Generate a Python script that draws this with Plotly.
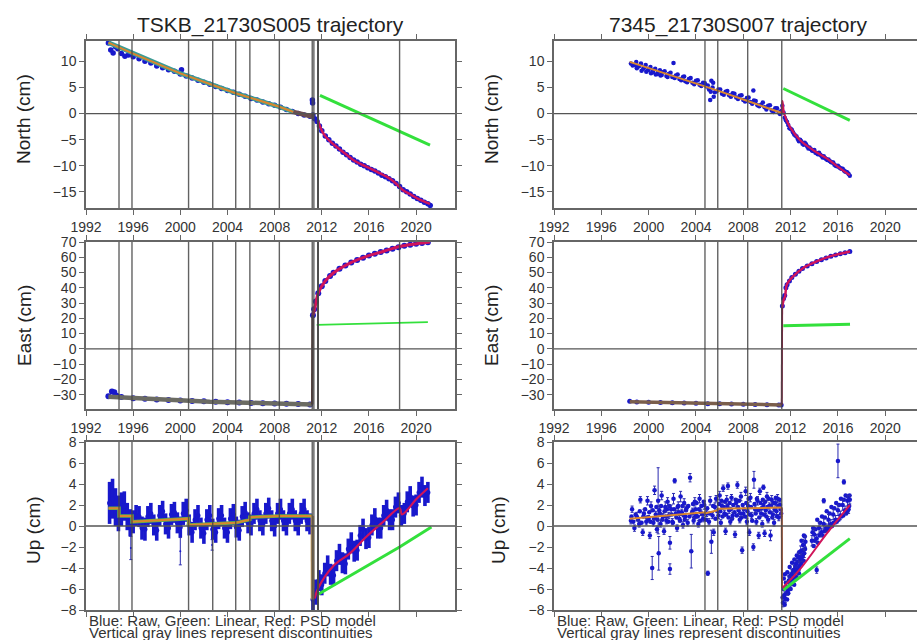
import plotly.graph_objects as go

# ---------------- text ----------------
TITLES = ["TSKB_21730S005 trajectory", "7345_21730S007 trajectory"]
Y_TITLES = ["North (cm)", "East (cm)", "Up (cm)"]
NOTE_1 = "Blue: Raw, Green: Linear, Red: PSD model"
NOTE_2 = "Vertical gray lines represent discontinuities"

YEAR_TICKS = [1992, 1996, 2000, 2004, 2008, 2012, 2016, 2020]
NORTH_TICKS = [-15, -10, -5, 0, 5, 10]
EAST_TICKS = [-30, -20, -10, 0, 10, 20, 30, 40, 50, 60, 70]
UP_TICKS = [-8, -6, -4, -2, 0, 2, 4, 6, 8]

# ---------------- discontinuities (years) ----------------
L_DISC = [1994.8, 1995.9, 2000.7, 2002.75, 2004.7, 2005.9, 2008.4,
          2011.19, 2011.33, 2011.66, 2011.68, 2011.70, 2018.6]
R_DISC = [2004.76, 2005.84, 2008.37, 2011.25]

# ================= TSKB (left) =================
# North
LN_RAW_T = [1993.9, 1994.1, 1994.3, 1994.5, 1994.7, 1995.0, 1995.3, 1995.6, 1996.0, 1996.5,
            1997.0, 1997.5, 1998.0, 1998.5, 1999.0, 1999.5, 2000.0, 2000.1, 2000.5, 2001.0,
            2001.5, 2002.0, 2002.5, 2003.0, 2003.5, 2004.0, 2004.5, 2005.0, 2005.5, 2006.0,
            2006.5, 2007.0, 2007.5, 2008.0, 2008.5, 2009.0, 2009.5, 2010.0, 2010.5, 2011.0,
            2011.2, 2011.22, 2011.25, 2011.4, 2011.6, 2011.8, 2012.0, 2012.3, 2012.6, 2012.9,
            2013.2, 2013.5, 2013.8, 2014.1, 2014.4, 2014.7, 2015.0, 2015.3, 2015.6, 2015.9,
            2016.2, 2016.5, 2016.8, 2017.1, 2017.4, 2017.7, 2018.0, 2018.3, 2018.6, 2018.9,
            2019.2, 2019.5, 2019.8, 2020.1, 2020.4, 2020.7, 2021.0, 2021.2]
LN_RAW_V = [13.5, 12.2, 11.6, 12.8, 12.4, 11.5, 11.0, 11.2, 10.9, 10.5,
            10.0, 9.7, 9.1, 8.8, 8.4, 8.1, 7.6, 8.4, 7.2, 6.8,
            6.4, 6.0, 5.6, 5.2, 4.8, 4.4, 4.1, 3.7, 3.3, 2.9,
            2.6, 2.2, 1.9, 1.6, 1.2, 0.8, 0.4, 0.0, -0.3, -0.5,
            2.6, 2.0, -0.3, -1.0, -1.5, -2.4, -3.3, -4.3, -5.0, -5.7,
            -6.2, -6.8, -7.4, -7.9, -8.4, -8.9, -9.3, -9.7, -10.0, -10.4,
            -10.7, -11.0, -11.4, -11.8, -12.1, -12.5, -12.9, -13.4, -14.0, -14.6,
            -15.0, -15.4, -15.9, -16.3, -16.6, -17.0, -17.3, -17.6]
LN_MOD_T = [1993.9, 1996.0, 2000.0, 2002.75, 2004.7, 2008.4, 2009.6]
LN_MOD_V = [13.6, 11.5, 7.7, 5.5, 3.9, 1.3, 0.3]
LN_TRANS_T = [2009.6, 2010.2, 2010.8, 2011.19, 2011.35]
LN_TRANS_V = [0.3, -0.1, -0.4, -0.6, -0.65]
LN_PSD_T = [2011.65, 2012.13, 2012.6, 2013.26, 2014.0, 2014.67, 2015.4, 2016.09, 2016.8,
            2017.5, 2018.2, 2018.9, 2019.6, 2020.3, 2021.18]
LN_PSD_V = [-1.3, -3.8, -5.1, -6.4, -7.7, -8.9, -9.8, -10.5, -11.3,
            -12.1, -13.2, -14.7, -15.6, -16.5, -17.3]
LN_LIN_T = [2011.85, 2021.18]
LN_LIN_V = [3.5, -6.05]

# East
LE_RAW_T = [1993.9, 1994.2, 1994.4, 1994.6, 1995.0, 1996.0, 1997.0, 1998.0, 1999.0, 2000.0,
            2001.0, 2002.0, 2003.0, 2004.0, 2005.0, 2006.0, 2007.0, 2008.0, 2009.0, 2010.0,
            2011.0, 2011.25, 2011.35, 2011.5, 2011.7, 2012.0, 2012.3, 2012.7, 2013.0, 2013.5,
            2014.0, 2014.5, 2015.0, 2015.5, 2016.0, 2016.5, 2017.0, 2017.5, 2018.0, 2018.5,
            2019.0, 2019.5, 2020.0, 2020.5, 2021.0]
LE_RAW_V = [-31.0, -28.0, -28.5, -30.8, -31.6, -32.3, -32.7, -33.2, -33.5, -33.8,
            -34.2, -34.4, -34.7, -34.9, -35.2, -35.4, -35.6, -35.8, -36.0, -36.2,
            -36.4, 22.0, 26.0, 31.0, 36.5, 41.0, 44.4, 47.8, 49.8, 52.5,
            54.6, 56.5, 58.2, 59.7, 61.1, 62.3, 63.4, 64.5, 65.6, 66.6,
            67.5, 68.2, 68.8, 69.3, 69.8]
LE_MOD_T = [1993.9, 1997.7, 2002.5, 2007.3, 2011.19]
LE_MOD_V = [-31.3, -33.0, -34.6, -35.6, -36.4]
LE_JUMP_T = [2011.19, 2011.22]
LE_JUMP_V = [-36.4, 22.0]
LE_PSD_T = [2011.25, 2011.42, 2011.7, 2012.27, 2012.98, 2014.39, 2015.81, 2017.2, 2018.6,
            2020.05, 2021.18]
LE_PSD_V = [22.0, 27.0, 36.5, 44.2, 49.7, 56.2, 60.6, 63.8, 67.1, 68.9, 70.0]
LE_LIN_T = [2011.57, 2021.0]
LE_LIN_V = [15.7, 17.5]

# Up
LU_RAW_T = [1994.0, 1994.25, 1994.5, 1994.75, 1995.0, 1995.25, 1995.5, 1995.75,
            1996.0, 1996.25, 1996.5, 1996.75, 1997.0, 1997.25, 1997.5, 1997.75,
            1998.0, 1998.25, 1998.5, 1998.75, 1999.0, 1999.25, 1999.5, 1999.75,
            2000.0, 2000.25, 2000.5, 2000.75, 2001.0, 2001.25, 2001.5, 2001.75,
            2002.0, 2002.25, 2002.5, 2002.75, 2003.0, 2003.25, 2003.5, 2003.75,
            2004.0, 2004.25, 2004.5, 2004.75, 2005.0, 2005.25, 2005.5, 2005.75,
            2006.0, 2006.25, 2006.5, 2006.75, 2007.0, 2007.25, 2007.5, 2007.75,
            2008.0, 2008.25, 2008.5, 2008.75, 2009.0, 2009.25, 2009.5, 2009.75,
            2010.0, 2010.25, 2010.5, 2010.75, 2011.0,
            2011.25, 2011.5, 2011.75, 2012.0, 2012.25, 2012.5, 2012.75, 2013.0,
            2013.25, 2013.5, 2013.75, 2014.0, 2014.25, 2014.5, 2014.75, 2015.0,
            2015.25, 2015.5, 2015.75, 2016.0, 2016.25, 2016.5, 2016.75, 2017.0,
            2017.25, 2017.5, 2017.75, 2018.0, 2018.25, 2018.5, 2018.75, 2019.0,
            2019.25, 2019.5, 2019.75, 2020.0, 2020.25, 2020.5, 2020.75, 2021.0]
LU_RAW_V = [2.2, 2.6, 1.8, 1.2, 1.6, 1.9, 0.9, 0.3,
            0.4, 1.0, 0.9, -0.2, -0.3, 0.9, 1.2, 0.1,
            -0.4, 1.0, 1.4, 0.2, -0.2, 1.1, 1.3, 0.3,
            -0.1, 1.2, 1.5, 0.1, -0.6, 0.6, 1.0, -0.2,
            -0.7, 0.6, 1.0, -0.3, -0.6, 0.7, 1.0, -0.2,
            -0.6, 0.7, 1.1, -0.1, -0.4, 0.9, 1.3, 0.3,
            0.1, 1.2, 1.6, 0.5, 0.1, 1.2, 1.7, 0.5,
            0.0, 1.2, 1.6, 0.5, 0.1, 1.2, 1.6, 0.5,
            0.1, 1.2, 1.6, 0.5, 0.2,
            -7.0, -6.3, -5.2, -5.6, -4.5, -3.8, -4.6, -4.7,
            -3.3, -2.7, -3.5, -3.6, -2.2, -1.6, -2.4, -2.3,
            -0.9, -0.3, -1.2, -1.1, 0.1, 0.7, -0.2, -0.2,
            1.0, 1.5, 0.6, 0.6, 1.8, 2.2, 1.0, 1.2,
            2.3, 2.8, 1.9, 2.0, 3.2, 3.7, 2.9, 3.2]
LU_RAW_E = [2.0, 1.9, 1.8, 1.7, 1.6, 1.4, 1.3, 1.3,
            1.1, 1.0, 1.0, 1.1, 1.1, 1.0, 1.0, 1.0,
            1.0, 1.0, 1.0, 1.0, 1.0, 1.0, 1.0, 1.0,
            1.0, 1.1, 1.1, 1.0, 1.0, 1.0, 1.0, 1.0,
            1.0, 1.0, 1.0, 1.0, 1.0, 1.0, 1.0, 1.0,
            1.0, 1.0, 1.0, 1.0, 1.0, 1.0, 1.0, 1.0,
            1.0, 1.0, 1.0, 1.0, 1.0, 1.0, 1.0, 1.0,
            1.0, 1.0, 1.0, 1.0, 1.0, 1.0, 1.0, 1.0,
            1.0, 1.0, 1.0, 1.0, 1.0,
            1.1, 1.2, 1.0, 1.0, 1.0, 1.0, 1.0, 1.0,
            1.0, 1.0, 1.0, 1.0, 1.0, 1.0, 1.0, 1.0,
            1.0, 1.0, 1.0, 1.0, 1.0, 1.0, 1.0, 1.0,
            1.0, 1.0, 1.0, 1.0, 1.0, 1.0, 1.0, 1.0,
            1.0, 1.0, 1.0, 1.0, 1.0, 1.0, 1.0, 1.0]
LU_OUT_T = [1995.8, 2000.0, 2002.7]
LU_OUT_V = [-2.1, -2.4, -1.8]
LU_OUT_E = [1.1, 1.3, 0.5]
LU_MOD_T = [1993.9, 1994.8, 1994.8, 1995.9, 1995.9, 2000.7, 2000.7, 2004.7, 2004.7,
            2005.9, 2005.9, 2008.4, 2011.2]
LU_MOD_V = [1.7, 1.7, 0.95, 0.95, 0.4, 0.7, 0.1, 0.25, 0.3, 0.6, 0.83, 0.95, 0.95]
LU_JUMP_T = [2011.2, 2011.21]
LU_JUMP_V = [0.95, -7.0]
LU_PSD_T = [2011.4, 2011.7, 2012.98, 2014.39, 2015.8, 2017.2, 2018.6, 2018.8, 2020.05, 2021.0]
LU_PSD_V = [-6.9, -5.9, -3.8, -2.6, -1.0, 0.4, 1.7, 1.1, 2.6, 3.6]
LU_LIN_T = [2011.7, 2018.6, 2021.3]
LU_LIN_V = [-6.5, -2.0, -0.1]

# ================= 7345 (right) =================
RN_RAW_T = [1998.5, 1998.8, 1999.0, 1999.2, 1999.4, 1999.6, 1999.8, 2000.0, 2000.2, 2000.4,
            2000.6, 2000.8, 2001.0, 2001.2, 2001.5, 2001.7, 2002.0, 2002.1, 2002.3, 2002.6,
            2002.9, 2003.1, 2003.4, 2003.7, 2004.0, 2004.3, 2004.6, 2004.9, 2005.1, 2005.2,
            2005.3, 2005.4, 2005.5, 2005.6, 2005.9, 2006.2, 2006.5, 2006.8, 2007.1, 2007.4,
            2007.7, 2008.0, 2008.3, 2008.6, 2008.85, 2008.9, 2009.2, 2009.5, 2009.8, 2010.1,
            2010.4, 2010.7, 2011.0, 2011.2,
            1998.65, 1998.95, 1999.1, 1999.35, 1999.55, 1999.75, 1999.95, 2000.15, 2000.35, 2000.55,
            2000.75, 2000.95, 2001.1, 2001.35, 2001.6, 2001.85, 2002.2, 2002.45, 2002.75, 2003.0,
            2003.25, 2003.55, 2003.85, 2004.15, 2004.45, 2004.75, 2005.0, 2005.25, 2005.45, 2005.75,
            2006.05, 2006.35, 2006.65, 2006.95, 2007.25, 2007.55, 2007.85, 2008.15, 2008.45, 2008.75,
            2009.05, 2009.35, 2009.65, 2009.95, 2010.25, 2010.55, 2010.85, 2011.1]
RN_RAW_V = [9.6, 9.3, 8.7, 9.1, 8.2, 8.8, 8.0, 8.5, 7.7, 8.3,
            7.5, 8.0, 7.3, 7.9, 7.2, 7.6, 7.0, 9.7, 7.3, 6.6,
            7.0, 6.2, 6.6, 5.9, 6.3, 5.5, 5.9, 5.2, 4.6, 2.6,
            6.3, 5.0, 3.2, 4.1, 4.6, 3.8, 4.2, 3.5, 3.9, 3.1,
            3.4, 2.6, 3.0, 2.2, 4.4, 2.5, 1.6, 1.7, 1.2, 1.5,
            0.6, 1.0, 0.2, 0.5,
            9.2, 9.9, 9.0, 9.6, 8.6, 9.3, 8.3, 8.9, 7.9, 8.6,
            7.6, 8.3, 7.4, 8.1, 7.0, 7.8, 6.8, 7.5, 6.4, 7.1,
            6.0, 6.8, 5.6, 6.4, 5.3, 5.8, 5.4, 4.2, 5.9, 4.3,
            4.6, 3.6, 4.3, 3.2, 3.8, 2.8, 3.5, 2.3, 3.1, 1.9,
            2.4, 1.4, 2.1, 0.8, 1.6, 0.3, 1.0, -0.1]
RN_POST_T = [2011.3, 2011.4, 2011.5, 2011.6, 2011.8, 2012.0, 2012.2, 2012.4, 2012.6, 2012.8,
             2013.0, 2013.2, 2013.4, 2013.6, 2013.8, 2014.0, 2014.2, 2014.4, 2014.6, 2014.8,
             2015.0, 2015.2, 2015.4, 2015.6, 2015.8, 2016.0, 2016.2, 2016.4, 2016.6, 2016.8,
             2017.0,
             2011.7, 2011.9, 2012.1, 2012.3, 2012.5, 2012.7, 2012.9, 2013.1, 2013.3, 2013.5,
             2013.7, 2013.9, 2014.1, 2014.3, 2014.5, 2014.7, 2014.9, 2015.1, 2015.3, 2015.5,
             2015.7, 2015.9, 2016.1, 2016.3, 2016.5, 2016.7, 2016.9]
RN_POST_V = [1.5, 0.2, -0.8, -1.3, -2.2, -2.9, -3.6, -4.2, -4.9, -5.0,
             -5.8, -5.6, -6.3, -6.5, -7.1, -7.0, -7.6, -7.5, -8.1, -8.2,
             -8.7, -8.8, -9.3, -9.4, -10.0, -10.0, -10.5, -10.6, -11.1, -11.3,
             -11.9,
             -1.6, -2.8, -3.1, -4.0, -4.4, -5.3, -5.3, -6.0, -5.9, -6.7,
             -6.8, -7.2, -7.5, -7.8, -7.9, -8.4, -8.5, -8.9, -9.1, -9.4,
             -9.8, -10.1, -10.3, -10.6, -10.9, -11.2, -11.6]
RN_MOD_T = [1998.4, 2004.76, 2005.84, 2008.37, 2011.25]
RN_MOD_V = [9.9, 5.3, 4.4, 2.4, 0.1]
RN_PSD_T = [2011.25, 2011.3, 2011.45, 2011.95, 2012.8, 2013.9, 2015.05, 2016.0, 2017.0]
RN_PSD_V = [0.1, 2.4, 0.0, -2.6, -5.1, -7.0, -8.6, -10.2, -11.8]
RN_LIN_T = [2011.38, 2017.0]
RN_LIN_V = [4.8, -1.3]

RE_RAW_T = [1998.4, 1999.0, 2000.0, 2001.0, 2002.0, 2003.0, 2004.0, 2005.0, 2006.0, 2007.0,
            2008.0, 2009.0, 2010.0, 2011.0, 2011.2,
            2011.3, 2011.4, 2011.5, 2011.6, 2011.7, 2011.9, 2012.1, 2012.4, 2012.7, 2013.0,
            2013.4, 2013.8, 2014.2, 2014.6, 2015.0, 2015.4, 2015.8, 2016.2, 2016.6, 2017.0]
RE_RAW_V = [-34.4, -34.8, -34.9, -35.2, -35.3, -35.5, -35.7, -36.0, -36.0, -36.2,
            -36.3, -36.5, -36.6, -36.7, -36.8,
            28.0, 33.0, 35.0, 40.0, 42.0, 44.5, 46.8, 48.8, 50.8, 52.6,
            54.3, 55.8, 57.2, 58.4, 59.6, 60.7, 61.5, 62.3, 63.0, 63.7]
RE_MOD_T = [1998.4, 2004.76, 2008.37, 2011.25]
RE_MOD_V = [-34.6, -35.8, -36.3, -36.7]
RE_JUMP_T = [2011.25, 2011.28]
RE_JUMP_V = [-36.7, 27.0]
RE_PSD_T = [2011.28, 2011.4, 2011.53, 2011.67, 2012.2, 2013.07, 2014.2, 2015.33, 2017.02]
RE_PSD_V = [27.0, 32.0, 34.3, 42.0, 47.4, 53.0, 57.3, 60.6, 63.8]
RE_LIN_T = [2011.38, 2017.02]
RE_LIN_V = [15.1, 16.2]

RU_RAW_T = [1998.5, 1998.6, 1998.8, 1999.0, 1999.2, 1999.3, 1999.5, 1999.6, 1999.8, 1999.9,
            2000.0, 2000.1, 2000.2, 2000.3, 2000.4, 2000.5, 2000.6, 2000.7, 2000.8, 2000.85,
            2000.9, 2001.0, 2001.1, 2001.2, 2001.3, 2001.4, 2001.5, 2001.6, 2001.7, 2001.8,
            2001.8, 2001.9, 2002.0, 2002.1, 2002.2, 2002.3, 2002.4, 2002.5, 2002.6, 2002.7,
            2002.8, 2002.9, 2003.0, 2003.1, 2003.2, 2003.3, 2003.5, 2003.6, 2003.7, 2003.8,
            2003.9, 2004.0, 2004.2, 2004.3, 2004.4, 2004.6, 2004.7, 2004.9, 2005.0, 2005.1,
            2005.2, 2005.3, 2005.4, 2005.5, 2005.6, 2005.7, 2005.9, 2006.0, 2006.1, 2006.2,
            2006.3, 2006.4, 2006.5, 2006.6, 2006.7, 2006.8, 2006.9, 2007.0, 2007.1, 2007.3,
            2007.4, 2007.5, 2007.6, 2007.7, 2007.8, 2007.9, 2008.0, 2008.2, 2008.3, 2008.4,
            2008.5, 2008.6, 2008.7, 2008.85, 2008.9, 2009.0, 2009.1, 2009.2, 2009.3, 2009.4,
            2009.5, 2009.6, 2009.7, 2009.7, 2009.8, 2009.9, 2010.0, 2010.1, 2010.2, 2010.3,
            2010.4, 2010.5, 2010.6, 2010.7, 2010.8, 2010.9, 2011.0, 2011.1, 2011.2,
            2011.35, 2011.45, 2011.55, 2011.65, 2011.75, 2011.85, 2011.95, 2012.05, 2012.15, 2012.25,
            2012.35, 2012.45, 2012.55, 2012.65, 2012.75, 2012.85, 2012.95, 2013.05, 2013.15, 2013.25,
            2013.8, 2014.2, 2014.0, 2014.2, 2014.4, 2014.6, 2014.8, 2014.8, 2015.0, 2015.2,
            2015.4, 2015.6, 2015.8, 2016.0, 2016.0, 2016.2, 2016.4, 2016.5, 2016.6, 2016.8,
            2016.9, 2017.0]
RU_RAW_V = [0.5, 1.6, -0.2, 0.9, 0.2, 2.5, -0.6, 1.2, 0.4, 2.4,
            0.7, -0.9, 1.9, -4.0, 0.3, 3.4, 1.1, -0.3, 2.4, -2.6,
            1.5, 0.2, 2.9, 0.9, -0.5, 1.8, 0.5, 2.3, 1.0, -1.6,
            -4.1, 1.6, 0.4, 2.6, 4.3, 1.2, -0.2, 1.9, 0.7, 2.8,
            1.3, 0.1, 2.2, 0.9, 1.7, 0.3, 4.6, -2.4, 1.4, 0.5,
            2.3, 1.0, 0.2, 2.6, 1.3, 0.7, 2.0, 1.2, -4.5, 0.4,
            2.4, -1.5, 1.0, -0.6, 1.8, 2.6, 1.0, 2.9, 0.3, 1.9,
            3.6, 1.2, -0.5, 2.5, 3.8, 1.5, 0.4, 2.7, 1.0, -0.8,
            2.2, 3.9, 1.5, 0.6, 2.8, -2.3, 1.2, 3.3, 0.4, 1.9,
            -0.6, 2.7, 1.0, -2.0, 4.4, 1.6, 0.4, 2.4, -0.9, 3.3,
            1.2, 0.2, 2.0, 3.7, -0.7, 1.5, 2.8, 0.6, 1.9, -0.9,
            2.5, 1.1, 0.3, 2.2, 1.4, 2.6, 0.8, 2.0, 1.2,
            -7.3, -6.6, -6.9, -5.8, -6.2, -5.2, -5.6, -4.6, -5.1, -4.2,
            -4.8, -3.6, -4.2, -3.0, -3.8, -2.4, -3.0, -1.8, -2.6, -1.5,
            -1.4, -4.2, -0.8, -1.2, -0.2, -0.6, 0.2, 2.4, -0.2, 0.6,
            0.2, 1.1, 0.6, 1.5, 6.2, 1.0, 2.0, 4.2, 1.5, 2.4,
            1.6, 2.5]
RU_RAW_E = [0.3, 0.3, 0.3, 0.4, 0.3, 0.3, 0.3, 0.4, 0.3, 0.4,
            0.3, 0.3, 0.4, 1.1, 0.3, 0.4, 0.3, 0.3, 3.15, 1.6,
            0.4, 0.3, 0.4, 0.3, 0.3, 0.5, 0.3, 0.4, 0.3, 0.6,
            0.5, 0.4, 0.3, 0.5, 0.2, 0.3, 0.3, 0.4, 0.3, 0.5,
            0.3, 0.3, 0.4, 0.3, 0.3, 0.3, 0.4, 1.6, 0.3, 0.3,
            0.4, 0.3, 0.3, 0.4, 0.3, 0.3, 0.4, 0.3, 0.2, 0.3,
            0.4, 1.1, 0.3, 0.3, 0.4, 0.3, 0.3, 0.4, 0.3, 0.3,
            0.3, 0.3, 0.3, 0.4, 0.3, 0.3, 0.3, 0.3, 0.3, 0.3,
            0.4, 0.3, 0.3, 0.3, 0.4, 0.3, 0.3, 0.4, 0.3, 0.3,
            0.3, 0.4, 0.3, 0.3, 0.8, 0.3, 0.3, 0.4, 0.3, 0.3,
            0.3, 0.3, 0.4, 0.2, 0.3, 0.3, 0.4, 0.3, 0.3, 0.5,
            0.4, 0.3, 0.3, 0.3, 0.3, 0.4, 0.3, 0.3, 0.3,
            0.4, 0.5, 0.4, 0.5, 0.4, 0.5, 0.4, 0.5, 0.4, 0.5,
            0.4, 0.5, 0.5, 0.5, 0.4, 0.5, 0.4, 0.5, 0.4, 0.5,
            0.5, 0.3, 0.5, 0.4, 0.5, 0.4, 0.5, 0.2, 0.4, 0.5,
            0.4, 0.5, 0.4, 0.5, 1.6, 0.4, 0.5, 0.2, 0.4, 0.5,
            0.4, 0.4]
RU_BAND_T = [1998.55, 1998.7, 1998.9, 1999.1, 1999.25, 1999.4, 1999.55, 1999.7, 1999.85, 2000.05,
             2000.15, 2000.35, 2000.45, 2000.65, 2000.75, 2000.95, 2001.05, 2001.15, 2001.35, 2001.45,
             2001.55, 2001.65, 2001.75, 2001.95, 2002.05, 2002.15, 2002.35, 2002.45, 2002.55, 2002.65,
             2002.85, 2002.95, 2003.05, 2003.15, 2003.35, 2003.45, 2003.65, 2003.75, 2003.85, 2003.95,
             2004.05, 2004.15, 2004.25, 2004.35, 2004.45, 2004.55, 2004.65, 2004.85, 2004.95, 2005.15,
             2005.45, 2005.65, 2005.8, 2005.95, 2006.05, 2006.15, 2006.25, 2006.35, 2006.45, 2006.55,
             2006.65, 2006.75, 2006.85, 2006.95, 2007.05, 2007.15, 2007.25, 2007.35, 2007.45, 2007.55,
             2007.65, 2007.75, 2007.85, 2007.95, 2008.05, 2008.15, 2008.25, 2008.35, 2008.45, 2008.55,
             2008.65, 2008.75, 2008.95, 2009.05, 2009.15, 2009.25, 2009.35, 2009.45, 2009.55, 2009.65,
             2009.75, 2009.85, 2009.95, 2010.05, 2010.15, 2010.25, 2010.35, 2010.45, 2010.55, 2010.65,
             2010.75, 2010.85, 2010.95, 2011.05, 2011.15,
             2011.4, 2011.5, 2011.6, 2011.7, 2011.8, 2011.9, 2012.0, 2012.1, 2012.2, 2012.3,
             2012.4, 2012.5, 2012.6, 2012.7, 2012.8, 2012.9, 2013.0, 2013.1, 2013.2, 2013.85,
             2013.95, 2014.1, 2014.3, 2014.5, 2014.7, 2014.9, 2015.1, 2015.3, 2015.5, 2015.7,
             2015.9, 2016.1, 2016.3, 2016.5, 2016.7, 2016.85, 2016.95,
             2011.32, 2011.42, 2011.52, 2011.62, 2011.72, 2011.82, 2011.92, 2012.02, 2012.12, 2012.22,
             2012.32, 2012.42, 2012.52, 2012.62, 2012.72, 2012.82, 2012.92, 2013.02, 2013.12, 2013.22,
             2013.9, 2014.05, 2014.25, 2014.45, 2014.65, 2014.85, 2015.05, 2015.25, 2015.45, 2015.65,
             2015.85, 2016.05, 2016.25, 2016.45, 2016.65, 2016.8, 2016.98]
RU_BAND_V = [0.9, 0.4, 1.1, 0.6, 1.4, 0.3, 0.9, 1.6, 0.8, 1.3,
             0.4, 1.5, 0.7, 1.8, 0.6, 1.2, 1.9, 0.6, 1.4, 0.9,
             1.6, 0.4, 1.9, 1.1, 0.3, 1.6, 0.8, 1.8, 1.3, 0.5,
             1.9, 1.0, 0.6, 1.5, 1.9, 0.9, 1.2, 2.1, 0.8, 1.6,
             2.2, 0.9, 1.6, 0.5, 1.9, 1.1, 2.3, 0.6, 1.7, 1.2,
             1.9, 0.7, 1.4, 2.1, 1.4, 2.4, 0.9, 1.8, 2.3, 1.1,
             1.9, 0.8, 2.2, 1.6, 0.7, 2.0, 1.3, 2.5, 1.0, 1.8,
             2.4, 1.2, 0.8, 2.0, 1.6, 0.9, 2.2, 1.4, 2.6, 1.1,
             1.8, 0.5, 2.1, 1.2, 2.6, 1.5, 0.8, 2.2, 1.7, 2.5,
             1.1, 2.3, 0.9, 1.8, 2.6, 1.3, 1.9, 0.8, 2.2, 1.6,
             2.7, 0.9, 1.9, 2.5, 1.6,
             -6.0, -7.5, -5.4, -7.0, -6.4, -4.8, -6.0, -5.5, -4.4, -5.6,
             -3.9, -4.9, -3.4, -4.5, -2.9, -3.6, -2.3, -3.3, -1.0, -0.6,
             -1.9, -0.3, -1.6, 0.3, -0.9, 0.8, -0.4, 1.2, 0.0, 1.7,
             0.4, 2.0, 0.9, 2.5, 1.2, 2.8, 1.9,
             -6.8, -5.0, -4.6, -6.4, -4.4, -5.9, -3.9, -5.2, -3.5, -4.9,
             -3.2, -4.4, -2.8, -4.0, -2.5, -3.3, -1.4, -2.8, -0.9, -2.2,
             -0.2, -1.4, 0.6, -0.9, 0.9, -0.5, 1.4, -0.1, 1.8, 0.3,
             2.2, 0.6, 2.6, 1.0, 2.9, 1.4, 2.9]
RU_MOD_T = [1998.4, 2004.76, 2004.76, 2005.84, 2005.84, 2011.25]
RU_MOD_V = [0.7, 1.3, 1.2, 1.5, 1.65, 1.75]
RU_JUMP_T = [2011.25, 2011.27]
RU_JUMP_V = [1.75, -5.9]
RU_PSD_T = [2011.3, 2012.8, 2015.0, 2017.0]
RU_PSD_V = [-5.9, -4.1, -0.8, 2.0]
RU_LIN_T = [2011.38, 2017.0]
RU_LIN_V = [-6.1, -1.2]

# ---------------- styling / geometry ----------------
W, H = 917, 640
FONT = "Liberation Sans, Arial, Helvetica, sans-serif"
BLUE = "#1818cc"
GREEN = "#33e03c"
RED = "#d0145a"
ORANGE = "#d9862e"
TEAL = "#3a9c96"
GRAYLINE = "rgba(70,70,70,0.85)"
AXC = "#666666"

XDOM = [[86 / W, 455 / W], [554 / W, 1.0]]
XRANGE = [[1992, 2023.3], [1992, 2022.68]]
ROWPX = [(40.5, 208), (242, 409), (442, 610)]
YRANGE = [[-18.1, 14.0], [-39.4, 70.0], [-8, 8]]
YTICKS = [NORTH_TICKS, EAST_TICKS, UP_TICKS]

fig = go.Figure()


def ax(p):
    return ("x" if p == 0 else f"x{p + 1}"), ("y" if p == 0 else f"y{p + 1}")


def line(p, t, v, color, width, shape="linear"):
    xa, ya = ax(p)
    fig.add_trace(go.Scatter(x=t, y=v, mode="lines", xaxis=xa, yaxis=ya,
                             line=dict(color=color, width=width, shape=shape),
                             showlegend=False, hoverinfo="skip"))


def raw(p, t, v, size, err=None, ethick=1, ewidth=1.5, ecolor="#2a2ab0"):
    xa, ya = ax(p)
    kw = {}
    if err is not None:
        kw["error_y"] = dict(type="data", array=err, visible=True, color=ecolor,
                             thickness=ethick, width=ewidth)
    fig.add_trace(go.Scatter(x=t, y=v, mode="markers", xaxis=xa, yaxis=ya,
                             marker=dict(color=BLUE, size=size, line=dict(width=0)),
                             showlegend=False, hoverinfo="skip", **kw))


# ---- left North (panel 0)
raw(0, LN_RAW_T, LN_RAW_V, 5.5)
line(0, LN_MOD_T, LN_MOD_V, TEAL, 4.5)
line(0, LN_MOD_T, LN_MOD_V, ORANGE, 2)
line(0, LN_TRANS_T, LN_TRANS_V, "#6b4e50", 4.5)
line(0, LN_LIN_T, LN_LIN_V, GREEN, 3)
line(0, LN_PSD_T, LN_PSD_V, RED, 2.5, "spline")

# ---- right North (panel 1)
raw(1, RN_RAW_T, RN_RAW_V, 4.5)
raw(1, RN_POST_T, RN_POST_V, 4.5)
line(1, RN_MOD_T, RN_MOD_V, ORANGE, 2)
line(1, RN_LIN_T, RN_LIN_V, GREEN, 3)
line(1, RN_PSD_T, RN_PSD_V, RED, 2.2, "spline")

# ---- left East (panel 2)
raw(2, LE_RAW_T, LE_RAW_V, 6)
line(2, LE_MOD_T, LE_MOD_V, "#6b6b63", 4.5)
line(2, LE_JUMP_T, LE_JUMP_V, "#5a3a36", 2.5)
line(2, LE_LIN_T, LE_LIN_V, GREEN, 1.8)
line(2, LE_PSD_T, LE_PSD_V, RED, 3, "spline")

# ---- right East (panel 3)
raw(3, RE_RAW_T, RE_RAW_V, 5)
line(3, RE_MOD_T, RE_MOD_V, "#7a5e4c", 3.5)
line(3, RE_JUMP_T, RE_JUMP_V, "#8a2040", 2)
line(3, RE_LIN_T, RE_LIN_V, GREEN, 3)
line(3, RE_PSD_T, RE_PSD_V, RED, 2.5, "spline")

# ---- left Up (panel 4)
raw(4, LU_RAW_T, LU_RAW_V, 5, LU_RAW_E, ethick=3.6, ewidth=0, ecolor=BLUE)
raw(4, LU_OUT_T, LU_OUT_V, 2, LU_OUT_E)
line(4, LU_MOD_T, LU_MOD_V, "#5fae4a", 3.5)
line(4, LU_MOD_T, LU_MOD_V, ORANGE, 2)
line(4, LU_JUMP_T, LU_JUMP_V, "#c8a060", 3.5)
line(4, LU_LIN_T, LU_LIN_V, GREEN, 3)
line(4, LU_PSD_T, LU_PSD_V, RED, 2.2, "spline")

# ---- right Up (panel 5)
raw(5, RU_BAND_T, RU_BAND_V, 4.5)
raw(5, RU_RAW_T, RU_RAW_V, 4.5, RU_RAW_E)
line(5, RU_MOD_T, RU_MOD_V, ORANGE, 2)
line(5, RU_JUMP_T, RU_JUMP_V, "#c85a30", 2)
line(5, RU_LIN_T, RU_LIN_V, GREEN, 3)
line(5, RU_PSD_T, RU_PSD_V, RED, 2, "spline")

# ---------------- axes ----------------
layout = dict(width=W, height=H, margin=dict(l=0, r=0, t=0, b=0, autoexpand=False),
              paper_bgcolor="white", plot_bgcolor="white", showlegend=False,
              font=dict(family=FONT, color="#222222"))
shapes, annotations = [], []
for p in range(6):
    r, c = p // 2, p % 2
    xa, ya = ax(p)
    xkey = "xaxis" if p == 0 else f"xaxis{p + 1}"
    ykey = "yaxis" if p == 0 else f"yaxis{p + 1}"
    top, bot = ROWPX[r]
    layout[xkey] = dict(domain=XDOM[c], range=XRANGE[c], anchor=ya, automargin=False,
                        tickvals=YEAR_TICKS, ticks="outside", ticklen=5, tickwidth=1,
                        tickcolor=AXC, showline=True, linecolor=AXC, linewidth=1.5,
                        mirror="ticks", showgrid=False, zeroline=False,
                        showticklabels=(r < 2), ticklabelstandoff=0,
                        tickfont=dict(family=FONT, size=14, color="#333333"))
    layout[ykey] = dict(domain=[1 - bot / H, 1 - top / H], range=YRANGE[r], anchor=xa,
                        automargin=False,
                        tickvals=YTICKS[r], ticks="outside", ticklen=5, tickwidth=1,
                        tickcolor=AXC, showline=True, linecolor=AXC, linewidth=1.5,
                        mirror=("ticks" if c == 0 else False), showgrid=False,
                        zeroline=False, ticklabelstandoff=0,
                        tickfont=dict(family=FONT, size=14, color="#333333"))
    # zero line
    shapes.append(dict(type="line", xref=f"{xa} domain", yref=ya, x0=0, x1=1, y0=0, y1=0,
                       line=dict(color="#555555", width=1.3), layer="above"))
    # discontinuities
    for d in (L_DISC if c == 0 else R_DISC):
        shapes.append(dict(type="line", xref=xa, yref=f"{ya} domain", x0=d, x1=d,
                           y0=0, y1=1, line=dict(color=GRAYLINE, width=1.4), layer="above"))

# titles
TITLE_X = [270.5, 738]
for c in range(2):
    annotations.append(dict(text=TITLES[c], x=TITLE_X[c] / W, y=1 - 25 / H, xref="paper",
                            yref="paper", showarrow=False, xanchor="center", yanchor="middle",
                            font=dict(family=FONT, size=21, color="#222222")))
# y titles
YT_X = [[24, 24, 33], [492, 491, 498]]
YT_Y = [119, 326, 530]
for c in range(2):
    for r in range(3):
        annotations.append(dict(text=Y_TITLES[r], x=YT_X[c][r] / W, y=1 - YT_Y[r] / H,
                                xref="paper", yref="paper", showarrow=False, textangle=-90,
                                xanchor="center", yanchor="middle",
                                font=dict(family=FONT, size=19, color="#222222")))
# notes
NOTE_X = [87, 555]
for c in range(2):
    annotations.append(dict(text=NOTE_1, x=NOTE_X[c] / W, y=1 - 620.5 / H, xref="paper",
                            yref="paper", showarrow=False, xanchor="left", yanchor="middle",
                            font=dict(family=FONT, size=15, color="#333333")))
    annotations.append(dict(text=NOTE_2, x=NOTE_X[c] / W, y=1 - 632 / H, xref="paper",
                            yref="paper", showarrow=False, xanchor="left", yanchor="middle",
                            font=dict(family=FONT, size=15, color="#333333")))

layout["shapes"] = shapes
layout["annotations"] = annotations
fig.update_layout(**layout)
fig.write_html("out.html", config={"displayModeBar": False},
               post_script="document.body.style.margin='0';document.body.style.overflow='hidden';")
